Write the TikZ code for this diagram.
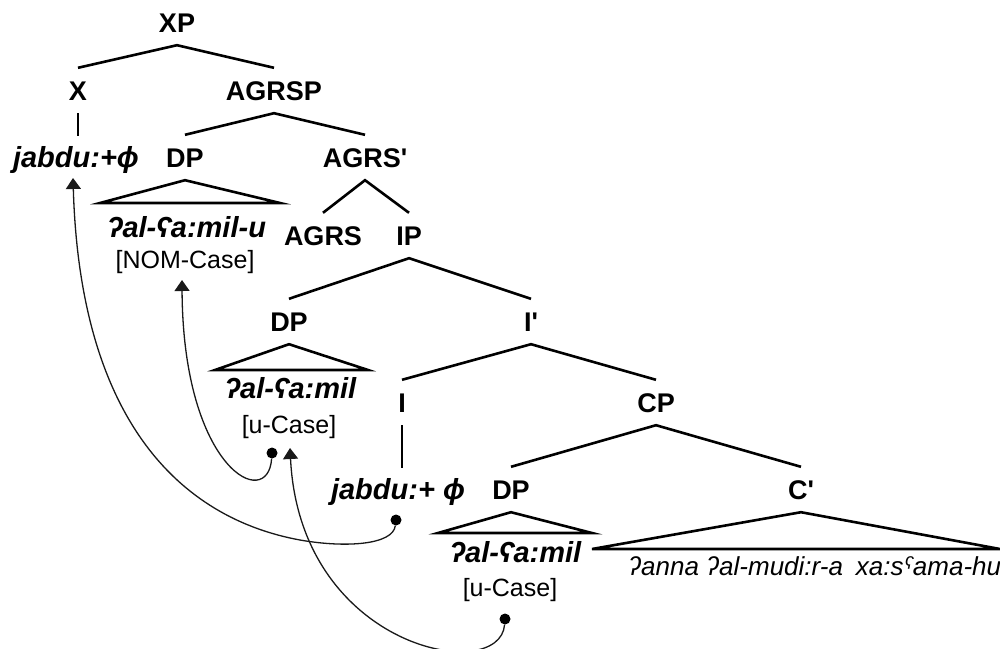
\documentclass[tikz,border=0pt]{standalone}
\usepackage{fontspec}
\setmainfont{Liberation Sans}
\usetikzlibrary{arrows.meta}

\begin{document}
\begin{tikzpicture}[x=1pt,y=-1pt,
  cat/.style={font=\bfseries\fontsize{27}{32}\selectfont, anchor=base, inner xsep=0pt, inner ysep=13pt, text height=19pt, text depth=0pt},
  word/.style={font=\bfseries\itshape\fontsize{29}{34}\selectfont, anchor=base, inner xsep=0pt, inner ysep=10pt, text height=21pt, text depth=6pt},
  feat/.style={font=\fontsize{25}{30}\selectfont, anchor=base, inner sep=0pt},
  longtext/.style={font=\itshape\fontsize{26}{31}\selectfont, anchor=base west, inner sep=0pt},
  branch/.style={line width=2.6pt, line join=miter},
  move/.style={line width=1.3pt, black!90, -{Triangle[width=15pt,length=11pt]}},
  tdot/.style={circle, fill=black, inner sep=0pt, minimum size=11pt}]
\useasboundingbox (0,0) rectangle (1000,648);

% top of the tree
\node[cat] (XP)    at (177,32)  {XP};
\node[cat] (X)     at (78,100)  {X};
\node[cat] (AGRSP) at (274,100) {AGRSP};
\node[word] (jabA) at (76,167)  {jabdu:+ϕ};
\node[cat] (DPa)   at (185,167) {DP};
\node[cat] (AGRSb) at (365,167) {AGRS\textquotesingle};
\node[word] (wordA) at (187,237) {ʔal-ʕa:mil-u};
\node[feat] (caseA) at (185,268) {[NOM-Case]};
\node[cat] (AGRS)  at (323,245) {AGRS};
\node[cat] (IP)    at (409,245) {IP};

% middle of the tree
\node[cat] (DPb)   at (289,331) {DP};
\node[cat] (Ib)    at (531,331) {I\textquotesingle};
\node[word] (wordB) at (291,398) {ʔal-ʕa:mil};
\node[feat] (caseB) at (289,433) {[u-Case]};
\node[cat] (I)     at (402,412) {I};
\node[cat] (CP)    at (656,412) {CP};

% bottom of the tree
\node[word] (jabB) at (398,499) {jabdu:+ ϕ};
\node[cat] (DPc)   at (511,499) {DP};
\node[cat] (Cb)    at (801,499) {C\textquotesingle};
\node[word] (wordC) at (516,562) {ʔal-ʕa:mil};
\node[feat] (caseC) at (510,596) {[u-Case]};
\node[longtext] (clause) at (628,575) {ʔanna ʔal-mudi:r-a\hspace{0.5em}xa:sˤama-hu};

% branches
\draw[branch] (X.north) -- (XP.south) -- (AGRSP.north);
\draw[branch] (X.south) -- (X.south |- jabA.north);
\draw[branch] (DPa.north) -- (AGRSP.south) -- (AGRSb.north);
\draw[branch] (AGRS.north) -- (AGRSb.south) -- (IP.north);
\draw[branch] (DPb.north) -- (IP.south) -- (Ib.north);
\draw[branch] (I.north) -- (Ib.south) -- (CP.north);
\draw[branch] (I.south) -- (I.south |- jabB.north);
\draw[branch] (DPc.north) -- (CP.south) -- (Cb.north);

% triangles
\coordinate (triAl) at (100,203); \coordinate (triAr) at (280,203);
\coordinate (triBl) at (215,370); \coordinate (triBr) at (368,370);
\coordinate (triCl) at (438,533); \coordinate (triCr) at (592,533);
\coordinate (triDl) at (592,549); \coordinate (triDr) at (1000,549);
\draw[branch] (DPa.south) -- (triAl) -- (triAr) -- cycle;
\draw[branch] (DPb.south) -- (triBl) -- (triBr) -- cycle;
\draw[branch] (DPc.south) -- (triCl) -- (triCr) -- cycle;
\draw[branch] (Cb.south) -- (triDl) -- (triDr) -- cycle;

% movement
\node[tdot] (dotA) at (396,520) {};
\node[tdot] (dotB) at (272,453) {};
\node[tdot] (dotC) at (505,619) {};
\coordinate (tipA) at (73,178);
\coordinate (tipB) at (182,280);
\coordinate (tipC) at (290,448);
\draw[move] (dotA) .. controls (393,545) and (345,548) .. (300,540)
  .. controls (180,518) and (80,420) .. (tipA);
\draw[move] (dotB) .. controls (268,512) and (183,470) .. (tipB);
\draw[move] (dotC) .. controls (500,685) and (300,650) .. (tipC);
\end{tikzpicture}
\end{document}
